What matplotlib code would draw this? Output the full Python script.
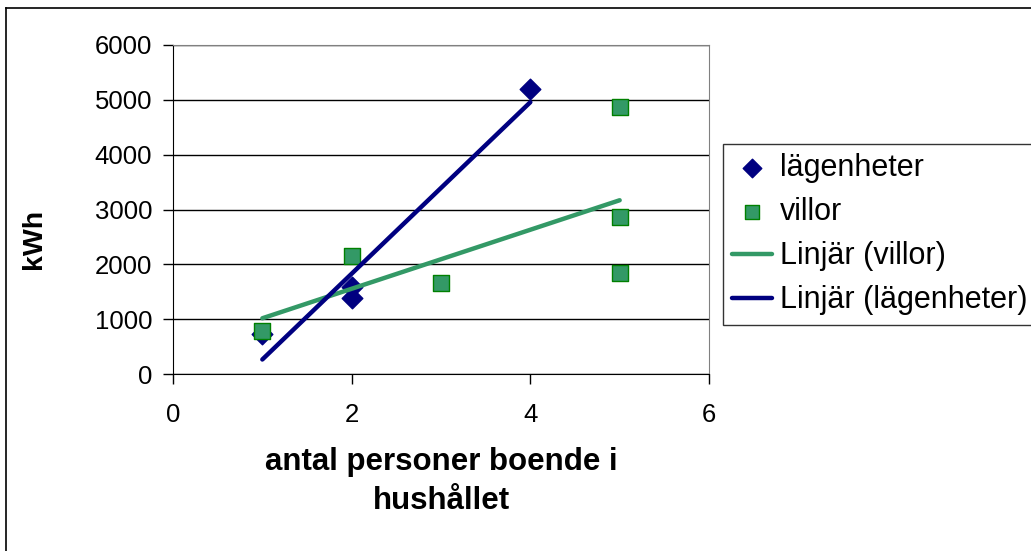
import matplotlib.pyplot as plt
from matplotlib.lines import Line2D
import numpy as np

plt.rcParams['font.family'] = ['Liberation Sans', 'DejaVu Sans']

# data
lgh_x = [1, 2, 2, 4]
lgh_y = [730, 1580, 1380, 5190]
villa_x = [1, 2, 3, 5, 5, 5]
villa_y = [790, 2145, 1660, 4870, 2860, 1845]

x_ticks = [0, 2, 4, 6]
y_ticks = [0, 1000, 2000, 3000, 4000, 5000, 6000]

navy = '#000080'
green = '#339966'

fig = plt.figure(figsize=(10.31, 5.51), dpi=100)
ax = fig.add_axes([173 / 1031, 1 - 374 / 551, 536 / 1031, 329 / 551])

# frame round the chart (only top and left show in the reference)
fig.add_artist(Line2D([6 / 1031, 6 / 1031], [0, 1 - 8 / 551], color='black', lw=1.2))
fig.add_artist(Line2D([6 / 1031, 1], [1 - 8 / 551, 1 - 8 / 551], color='black', lw=1.2))

ax.scatter(lgh_x, lgh_y, marker='D', s=110, color=navy, zorder=3, label='lägenheter')
ax.scatter(villa_x, villa_y, marker='s', s=120, facecolor=green, edgecolor='#008000',
           linewidth=1, zorder=4, label='villor')

# linear trendlines, like Excel's "Linjär"
k, m = np.polyfit(villa_x, villa_y, 1)
xs = np.array([min(villa_x), max(villa_x)])
ax.plot(xs, k * xs + m, color=green, lw=3.2, zorder=5, label='Linjär (villor)',
        solid_capstyle='round')
k, m = np.polyfit(lgh_x, lgh_y, 1)
xs = np.array([min(lgh_x), max(lgh_x)])
ax.plot(xs, k * xs + m, color=navy, lw=3.2, zorder=6, label='Linjär (lägenheter)',
        solid_capstyle='round')

ax.set_xlim(0, 6)
ax.set_ylim(0, 6000)
ax.set_xticks(x_ticks)
ax.set_yticks(y_ticks)
ax.tick_params(labelsize=18.5, direction='out', length=7, width=1, color='black', pad=8)
ax.tick_params(axis='x', pad=14)
ax.yaxis.grid(True, color='black', lw=1)
ax.set_axisbelow(True)
ax.spines['left'].set_color('black')
ax.spines['bottom'].set_color('black')
ax.spines['top'].set_color('#808080')
ax.spines['right'].set_color('#808080')

ax.set_ylabel('kWh', fontsize=20.5, fontweight='bold')
ax.yaxis.set_label_coords(-0.235, 0.41)
ax.set_xlabel('antal personer boende i\nhushållet', fontsize=22.5, fontweight='bold',
              labelpad=14, linespacing=1.4)

h, l = ax.get_legend_handles_labels()
leg = fig.legend(h, l, loc='upper left', bbox_to_anchor=(723 / 1031, 1 - 144 / 551),
                 fontsize=22, frameon=True, fancybox=False, borderpad=0.3,
                 handlelength=1.3, handletextpad=0.25, labelspacing=0.46,
                 borderaxespad=0, markerscale=0.9)
leg.get_frame().set_edgecolor('black')
leg.get_frame().set_linewidth(1)

fig.savefig('out.png', dpi=100)
